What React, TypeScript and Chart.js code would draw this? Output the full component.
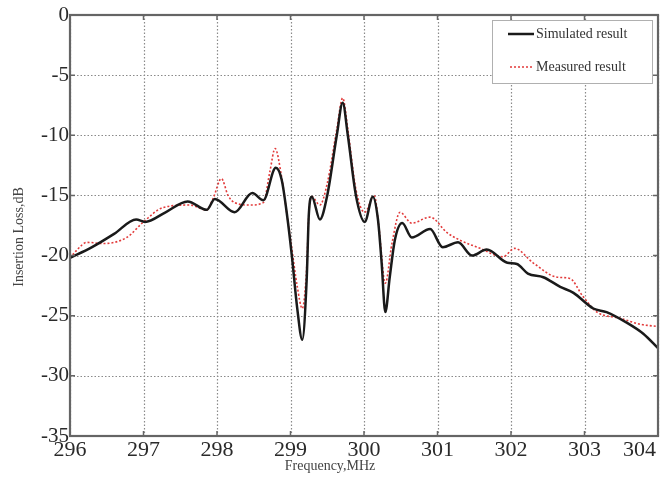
import React, { useEffect, useRef } from "react";
import { Chart, registerables } from "chart.js";

Chart.register(...registerables);

const simFreq = [296.0, 296.3, 296.6, 296.9, 297.02, 297.3, 297.6, 297.86, 297.97, 298.24, 298.48, 298.63, 298.8, 298.88, 298.95, 299.02, 299.09, 299.16, 299.22, 299.25, 299.29, 299.4, 299.5, 299.63, 299.71, 299.78, 299.89, 300.01, 300.12, 300.19, 300.24, 300.29, 300.35, 300.42, 300.52, 300.65, 300.9, 301.07, 301.28, 301.47, 301.67, 301.95, 302.08, 302.23, 302.44, 302.67, 302.85, 303.12, 303.3, 303.58, 303.8, 304.0];
const simLoss = [-20.2, -19.3, -18.2, -17.0, -17.2, -16.4, -15.5, -16.2, -15.3, -16.4, -14.8, -15.4, -12.7, -13.7, -16.5, -20.1, -24.3, -27.0, -22.0, -16.5, -15.1, -17.0, -15.0, -10.0, -7.3, -10.0, -15.0, -17.2, -15.1, -17.0, -20.6, -24.7, -21.8, -18.7, -17.3, -18.5, -17.8, -19.3, -18.9, -20.0, -19.5, -20.6, -20.7, -21.5, -21.8, -22.6, -23.1, -24.4, -24.7, -25.6, -26.5, -27.7];

const measFreq = [296.0, 296.1, 296.23, 296.45, 296.77, 297.0, 297.27, 297.63, 297.86, 297.95, 298.06, 298.15, 298.24, 298.45, 298.63, 298.72, 298.79, 298.88, 298.95, 299.02, 299.09, 299.16, 299.22, 299.25, 299.29, 299.4, 299.5, 299.63, 299.71, 299.78, 299.89, 300.01, 300.14, 300.2, 300.29, 300.38, 300.49, 300.65, 300.9, 301.13, 301.3, 301.58, 301.89, 302.05, 302.3, 302.63, 302.8, 302.98, 303.17, 303.48, 303.75, 304.0];
const measLoss = [-20.2, -19.5, -18.9, -19.0, -18.5, -17.2, -16.0, -15.8, -16.2, -15.2, -13.6, -15.0, -15.6, -15.8, -15.6, -13.0, -11.1, -13.5, -16.5, -19.5, -22.5, -24.4, -21.0, -16.5, -15.1, -15.8, -14.0, -9.5, -6.9, -9.5, -14.5, -16.4, -15.0, -17.5, -22.3, -19.0, -16.4, -17.3, -16.8, -18.1, -18.7, -19.4, -20.1, -19.4, -20.6, -21.8, -21.9, -23.4, -24.7, -25.2, -25.7, -25.9];

const xTicks = [296, 297, 298, 299, 300, 301, 302, 303, 304];
const yTicks = [0, -5, -10, -15, -20, -25, -30, -35];

const seriesNames = ["Simulated result", "Measured result"];
const xTitle = "Frequency,MHz";
const yTitle = "Insertion Loss,dB";

const SERIF = "'Liberation Serif', 'DejaVu Serif', serif";
const LAST_X = xTicks[xTicks.length - 1];

const gridPlugin = {
  id: "dotgrid",
  beforeDatasetsDraw(chart: any) {
    const { ctx, chartArea: a, scales } = chart;
    ctx.save();
    ctx.strokeStyle = "#8a8a8a";
    ctx.lineWidth = 1.2;
    ctx.setLineDash([1.5, 2]);
    ctx.beginPath();
    for (const t of xTicks) {
      const x = Math.round(scales.x.getPixelForValue(t)) + 0.5;
      ctx.moveTo(x, a.top); ctx.lineTo(x, a.bottom);
    }
    for (const t of yTicks) {
      const y = Math.round(scales.y.getPixelForValue(t)) + 0.5;
      ctx.moveTo(a.left, y); ctx.lineTo(a.right, y);
    }
    ctx.stroke();
    ctx.restore();
  },
};

const framePlugin = {
  id: "frame",
  afterDatasetsDraw(chart: any) {
    const { ctx, chartArea: a, scales } = chart;
    ctx.save();
    ctx.strokeStyle = "#656565";
    ctx.lineWidth = 2.2;
    ctx.setLineDash([]);
    ctx.strokeRect(a.left, a.top, a.right - a.left, a.bottom - a.top);
    ctx.lineWidth = 1.5;
    ctx.beginPath();
    for (const t of xTicks) {
      const x = scales.x.getPixelForValue(t);
      ctx.moveTo(x, a.top); ctx.lineTo(x, a.top + 5);
      ctx.moveTo(x, a.bottom); ctx.lineTo(x, a.bottom - 5);
    }
    for (const t of yTicks) {
      const y = scales.y.getPixelForValue(t);
      ctx.moveTo(a.left, y); ctx.lineTo(a.left + 5, y);
      ctx.moveTo(a.right, y); ctx.lineTo(a.right - 5, y);
    }
    ctx.stroke();

    // last x tick label, shifted left as in the reference
    ctx.font = `22px ${SERIF}`;
    ctx.fillStyle = "#2a2a2a";
    ctx.textAlign = "left";
    ctx.textBaseline = "middle";
    ctx.fillText(String(LAST_X), scales.x.getPixelForValue(LAST_X) - 35, a.bottom + 1 + 13.2);

    // legend
    const lx = 492, ly = 20, lw = 160, lh = 63;
    ctx.fillStyle = "#ffffff";
    ctx.fillRect(lx, ly, lw, lh);
    ctx.strokeStyle = "#b0b0b0";
    ctx.lineWidth = 1;
    ctx.strokeRect(lx + 0.5, ly + 0.5, lw, lh);
    ctx.font = `14px ${SERIF}`;
    ctx.fillStyle = "#333";
    ctx.textBaseline = "middle";
    ctx.textAlign = "left";
    ctx.strokeStyle = "#1a1a1a";
    ctx.lineWidth = 2.5;
    ctx.beginPath(); ctx.moveTo(508, 34); ctx.lineTo(534, 34); ctx.stroke();
    ctx.fillText(seriesNames[0], 536, 34);
    ctx.strokeStyle = "#e23a3a";
    ctx.lineWidth = 1.5;
    ctx.setLineDash([2, 2]);
    ctx.beginPath(); ctx.moveTo(510, 67); ctx.lineTo(534, 67); ctx.stroke();
    ctx.setLineDash([]);
    ctx.fillText(seriesNames[1], 536, 67);

    // axis titles
    ctx.font = `14px ${SERIF}`;
    ctx.fillStyle = "#444";
    ctx.textAlign = "center";
    ctx.fillText(xTitle, 330, 466);
    ctx.save();
    ctx.translate(19, 237);
    ctx.rotate(-Math.PI / 2);
    ctx.fillText(yTitle, 0, 0);
    ctx.restore();
    ctx.restore();
  },
};

export default function App() {
  const ref = useRef<HTMLCanvasElement | null>(null);
  useEffect(() => {
    if (!ref.current) return;
    const chart = new Chart(ref.current, {
      type: "line",
      data: {
        datasets: [
          {
            label: seriesNames[0],
            data: simFreq.map((f, i) => ({ x: f, y: simLoss[i] })),
            borderColor: "#1a1a1a",
            borderWidth: 2.5,
            pointRadius: 0,
            cubicInterpolationMode: "monotone",
            fill: false,
          },
          {
            label: seriesNames[1],
            data: measFreq.map((f, i) => ({ x: f, y: measLoss[i] })),
            borderColor: "#e23a3a",
            borderWidth: 1.6,
            borderDash: [2, 2],
            pointRadius: 0,
            cubicInterpolationMode: "monotone",
            fill: false,
          },
        ],
      },
      options: {
        responsive: false,
        animation: false,
        layout: { padding: { top: 15, right: 2, left: 0, bottom: 0 } },
        plugins: { legend: { display: false }, tooltip: { enabled: false } },
        scales: {
          x: {
            type: "linear",
            min: 296,
            max: 304,
            afterBuildTicks: (s: any) => { s.ticks = xTicks.map((v) => ({ value: v })); },
            afterFit: (s: any) => { s.height = 41; s.paddingLeft = 0; s.paddingRight = 0; },
            ticks: {
              font: { family: SERIF, size: 22 },
              color: "#2a2a2a",
              padding: 1,
              maxRotation: 0,
              autoSkip: false,
              callback: (v: any) => (v === LAST_X ? "" : String(v)),
            },
            grid: { display: false, drawTicks: false },
            border: { display: false },
          },
          y: {
            type: "linear",
            min: -35,
            max: 0,
            afterBuildTicks: (s: any) => { s.ticks = yTicks.map((v) => ({ value: v })); },
            afterFit: (s: any) => { s.width = 70; s.paddingTop = 0; s.paddingBottom = 0; },
            ticks: { font: { family: SERIF, size: 21 }, color: "#2a2a2a", padding: 1 },
            grid: { display: false, drawTicks: false },
            border: { display: false },
          },
        },
      },
      plugins: [gridPlugin, framePlugin],
    } as any);
    return () => chart.destroy();
  }, []);
  return (
    <div style={{ position: "absolute", left: 0, top: 0, width: 660, height: 477, background: "#fff" }}>
      <canvas ref={ref} width={660} height={477} />
    </div>
  );
}
